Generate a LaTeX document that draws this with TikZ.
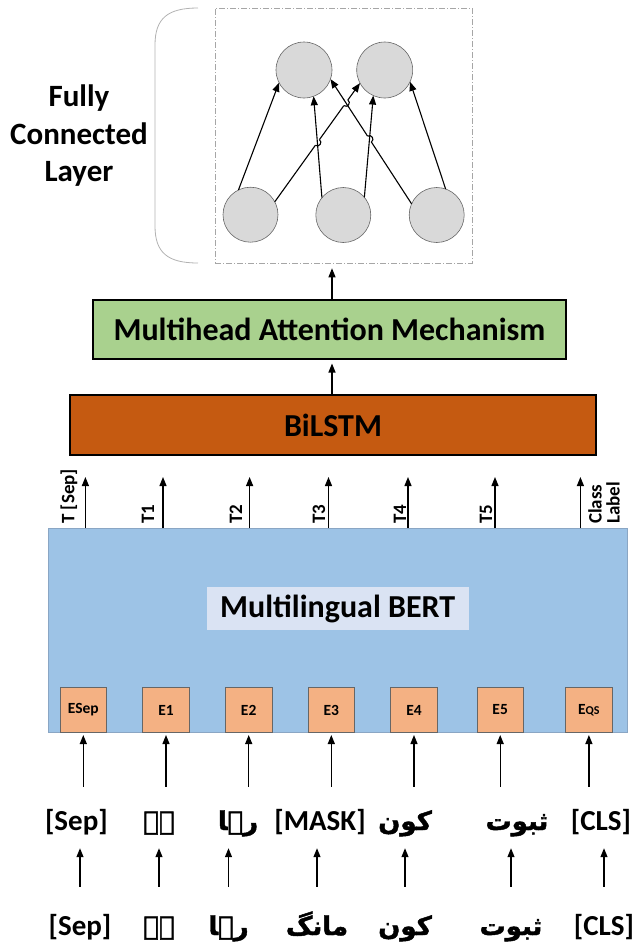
\documentclass[tikz,border=0pt]{standalone}
\usepackage{fontspec}
\setmainfont{Carlito}
\newfontfamily\urdufont[Script=Arabic, FakeBold=1.6]{DejaVu Sans}
\TeXXeTstate=1
\usetikzlibrary{arrows.meta,calc,intersections}

\definecolor{bertblue}{HTML}{9DC3E6}
\definecolor{bertedge}{HTML}{8AA6C4}
\definecolor{labelblue}{HTML}{DAE3F3}
\definecolor{embfill}{HTML}{F4B183}
\definecolor{lstmfill}{HTML}{C55A11}
\definecolor{attnfill}{HTML}{A9D18E}
\definecolor{neuron}{HTML}{D9D9D9}

\newcommand\ur[1]{{\urdufont\fontsize{26}{26}\selectfont\beginR #1\endR}}

\tikzset{
  arr/.style={-{Triangle[length=9pt,width=7pt]}, line width=1.2pt},
  link/.style={-{Triangle[length=9pt,width=7pt]}, line width=1.1pt},
  layerbox/.style={draw=black, line width=2pt, inner sep=0pt,
    font=\bfseries\fontsize{32}{32}\selectfont},
  emb/.style={draw=gray!80!black, line width=0.6pt, fill=embfill, inner sep=0pt,
    minimum width=46.5pt, minimum height=45.4pt, font=\bfseries\fontsize{15.5}{15.5}\selectfont},
  tok/.style={anchor=base, inner sep=0pt, text height=22pt, text depth=7pt,
    font=\bfseries\fontsize{29}{29}\selectfont},
  tlabel/.style={rotate=90, anchor=west, inner sep=0pt, align=left,
    font=\bfseries\fontsize{19}{18}\selectfont},
  unit/.style={circle, draw=gray!80!black, line width=0.6pt, fill=neuron,
    minimum size=56pt, inner sep=0pt, outer sep=0pt},
  hopgap/.style={fill=white},
}

\begin{document}
\begin{tikzpicture}[x=1pt,y=-1pt]
\useasboundingbox (0,0) rectangle (634,943);

% ---------- fully connected block ----------
\node[draw=gray!70, line width=0.6pt, dash pattern=on 6pt off 2pt on 1pt off 2pt,
      minimum width=257pt, minimum height=255pt, inner sep=0pt] (fc) at (343.5,135.5) {};
\draw[gray!60, line width=0.8pt] (198,8) .. controls (168,8) and (155,18) .. (155,45)
   -- (155,226) .. controls (155,253) and (168,263) .. (198,263);
\node[align=center, font=\bfseries\fontsize{31}{37.5}\selectfont] (fclabel) at (79,136)
   {Fully\\Connected\\Layer};

\node[unit] (t1) at (304,70) {};
\node[unit] (t2) at (384.7,70) {};
\node[unit, minimum size=55pt] (b1) at (250.5,214.7) {};
\node[unit, minimum size=55pt] (b2) at (343.3,215) {};
\node[unit, minimum size=55pt] (b3) at (436.7,215) {};

\path[name path=p12] (b1.28) -- (t2.208);
\path[name path=p31] (b3.156) -- (t1.341);
\path[name path=p21] (b2.141) -- (t1.290);
\path[name path=p22] (b2.40) -- (t2.246);
\path[name intersections={of=p31 and p22, by=x3}];
\path[name intersections={of=p12 and p21, by=x1}];
\path[name intersections={of=p12 and p31, by=x2}];

% b3 -> t1 hops over b2 -> t2
\draw[link] (b3.156) -- (t1.341);
\fill[hopgap] (x3) circle[radius=3.6pt];
\draw[line width=1.1pt] ($(x3)!3.5pt!(b3.156)$)
   .. controls ($($(x3)!3.5pt!(b3.156)$)!4.5pt!-90:(x3)$) and ($($(x3)!3.5pt!(t1.341)$)!4.5pt!90:(x3)$)
   .. ($(x3)!3.5pt!(t1.341)$);

% b1 -> t2 hops over b2 -> t1 and b3 -> t1
\draw[link] (b1.28) -- (t2.208);
\fill[hopgap] (x1) circle[radius=3.6pt];
\fill[hopgap] (x2) circle[radius=3.6pt];
\draw[line width=1.1pt] ($(x1)!3.5pt!(b1.28)$)
   .. controls ($($(x1)!3.5pt!(b1.28)$)!4.5pt!-90:(x1)$) and ($($(x1)!3.5pt!(t2.208)$)!4.5pt!90:(x1)$)
   .. ($(x1)!3.5pt!(t2.208)$);
\draw[line width=1.1pt] ($(x2)!3.5pt!(b1.28)$)
   .. controls ($($(x2)!3.5pt!(b1.28)$)!4.5pt!-90:(x2)$) and ($($(x2)!3.5pt!(t2.208)$)!4.5pt!90:(x2)$)
   .. ($(x2)!3.5pt!(t2.208)$);
\draw[line width=1.1pt] ($(x2)!5pt!(b3.156)$) -- ($(x2)!5pt!(t1.341)$);

\draw[link] (b1.116) -- (t1.207);
\draw[link] (b2.141) -- (t1.290);
\draw[link] (b2.40) -- (t2.246);
\draw[link] (b3.71) -- (t2.335);

% ---------- attention and BiLSTM ----------
\node[layerbox, fill=attnfill, minimum width=473pt, minimum height=59pt] (mha) at (329.5,329)
   {Multihead Attention Mechanism};
\node[layerbox, fill=lstmfill, minimum width=526pt, minimum height=60pt] (lstm) at (333,425)
   {BiLSTM};

\draw[arr, shorten >=5pt] (mha.north -| 332,0) -- (fc.south -| 332,0);
\draw[arr, shorten >=4pt] (lstm.north -| 332,0) -- (mha.south -| 332,0);

% ---------- multilingual BERT ----------
\node[draw=bertedge, line width=0.8pt, fill=bertblue, minimum width=578.8pt,
      minimum height=204.2pt, inner sep=0pt] (bert) at (337.9,630.6) {};
\node[fill=labelblue, minimum width=262.3pt, minimum height=43pt, inner sep=0pt,
      font=\bfseries\fontsize{32}{32}\selectfont] (bertlabel) at (337.7,608.5) {Multilingual BERT};

\node[emb] (e1) at (83.3,710) {ESep};
\node[emb] (e2) at (166,710) {E1};
\node[emb] (e3) at (248.7,710) {E2};
\node[emb] (e4) at (331.3,710) {E3};
\node[emb] (e5) at (414,710) {E4};
\node[emb] (e6) at (500.2,710) {E5};
\node[emb] (e7) at (588.9,710) {E{\fontsize{12}{12}\selectfont QS}};

% output token arrows and labels
\foreach \n/\x in {1/85.4, 2/163, 3/249.6, 4/328.5, 5/408, 6/495, 7/580.4}
  \coordinate (out\n) at (\x,477);
\foreach \n in {1,...,7}
  \draw[arr] (out\n |- bert.north) -- (out\n);

\node[tlabel] (lab1) at (69,524) {T [Sep]};
\node[tlabel] (lab2) at (148,524) {T1};
\node[tlabel] (lab3) at (236,524) {T2};
\node[tlabel] (lab4) at (319,524) {T3};
\node[tlabel] (lab5) at (400,524) {T4};
\node[tlabel] (lab6) at (486,524) {T5};
\node[tlabel] (lab7) at (604,524) {Class\\Label};

% ---------- input tokens ----------
\node[tok] (r1a) at (76.4,830) {[Sep]};
\node[tok] (r1b) at (159,830) {\ur{ہے}};
\node[tok] (r1c) at (238,830) {\ur{رہا}};
\node[tok] (r1d) at (320,830) {[MASK]};
\node[tok] (r1e) at (405,830) {\ur{کون}};
\node[tok] (r1f) at (517,830) {\ur{ثبوت}};
\node[tok] (r1g) at (601,830) {[CLS]};

\node[tok] (r2a) at (80,935) {[Sep]};
\node[tok] (r2b) at (159,935) {\ur{ہے}};
\node[tok] (r2c) at (228.5,935) {\ur{رہا}};
\node[tok] (r2d) at (317,935) {\ur{مانگ}};
\node[tok] (r2e) at (405,935) {\ur{کون}};
\node[tok] (r2f) at (511,935) {\ur{ثبوت}};
\node[tok] (r2g) at (604,935) {[CLS]};

\foreach \a/\e in {a/e1, b/e2, c/e3, d/e4, e/e5, f/e6, g/e7}
  \draw[arr, shorten <=21pt, shorten >=2pt] (r1\a.north -| \e.south) -- (\e.south);
\foreach \a in {a,b,c,d,e,f,g}
  \draw[arr, shorten <=26pt, shorten >=11pt] (r2\a.north) -- (r2\a.north |- r1\a.south);
\end{tikzpicture}
\end{document}
